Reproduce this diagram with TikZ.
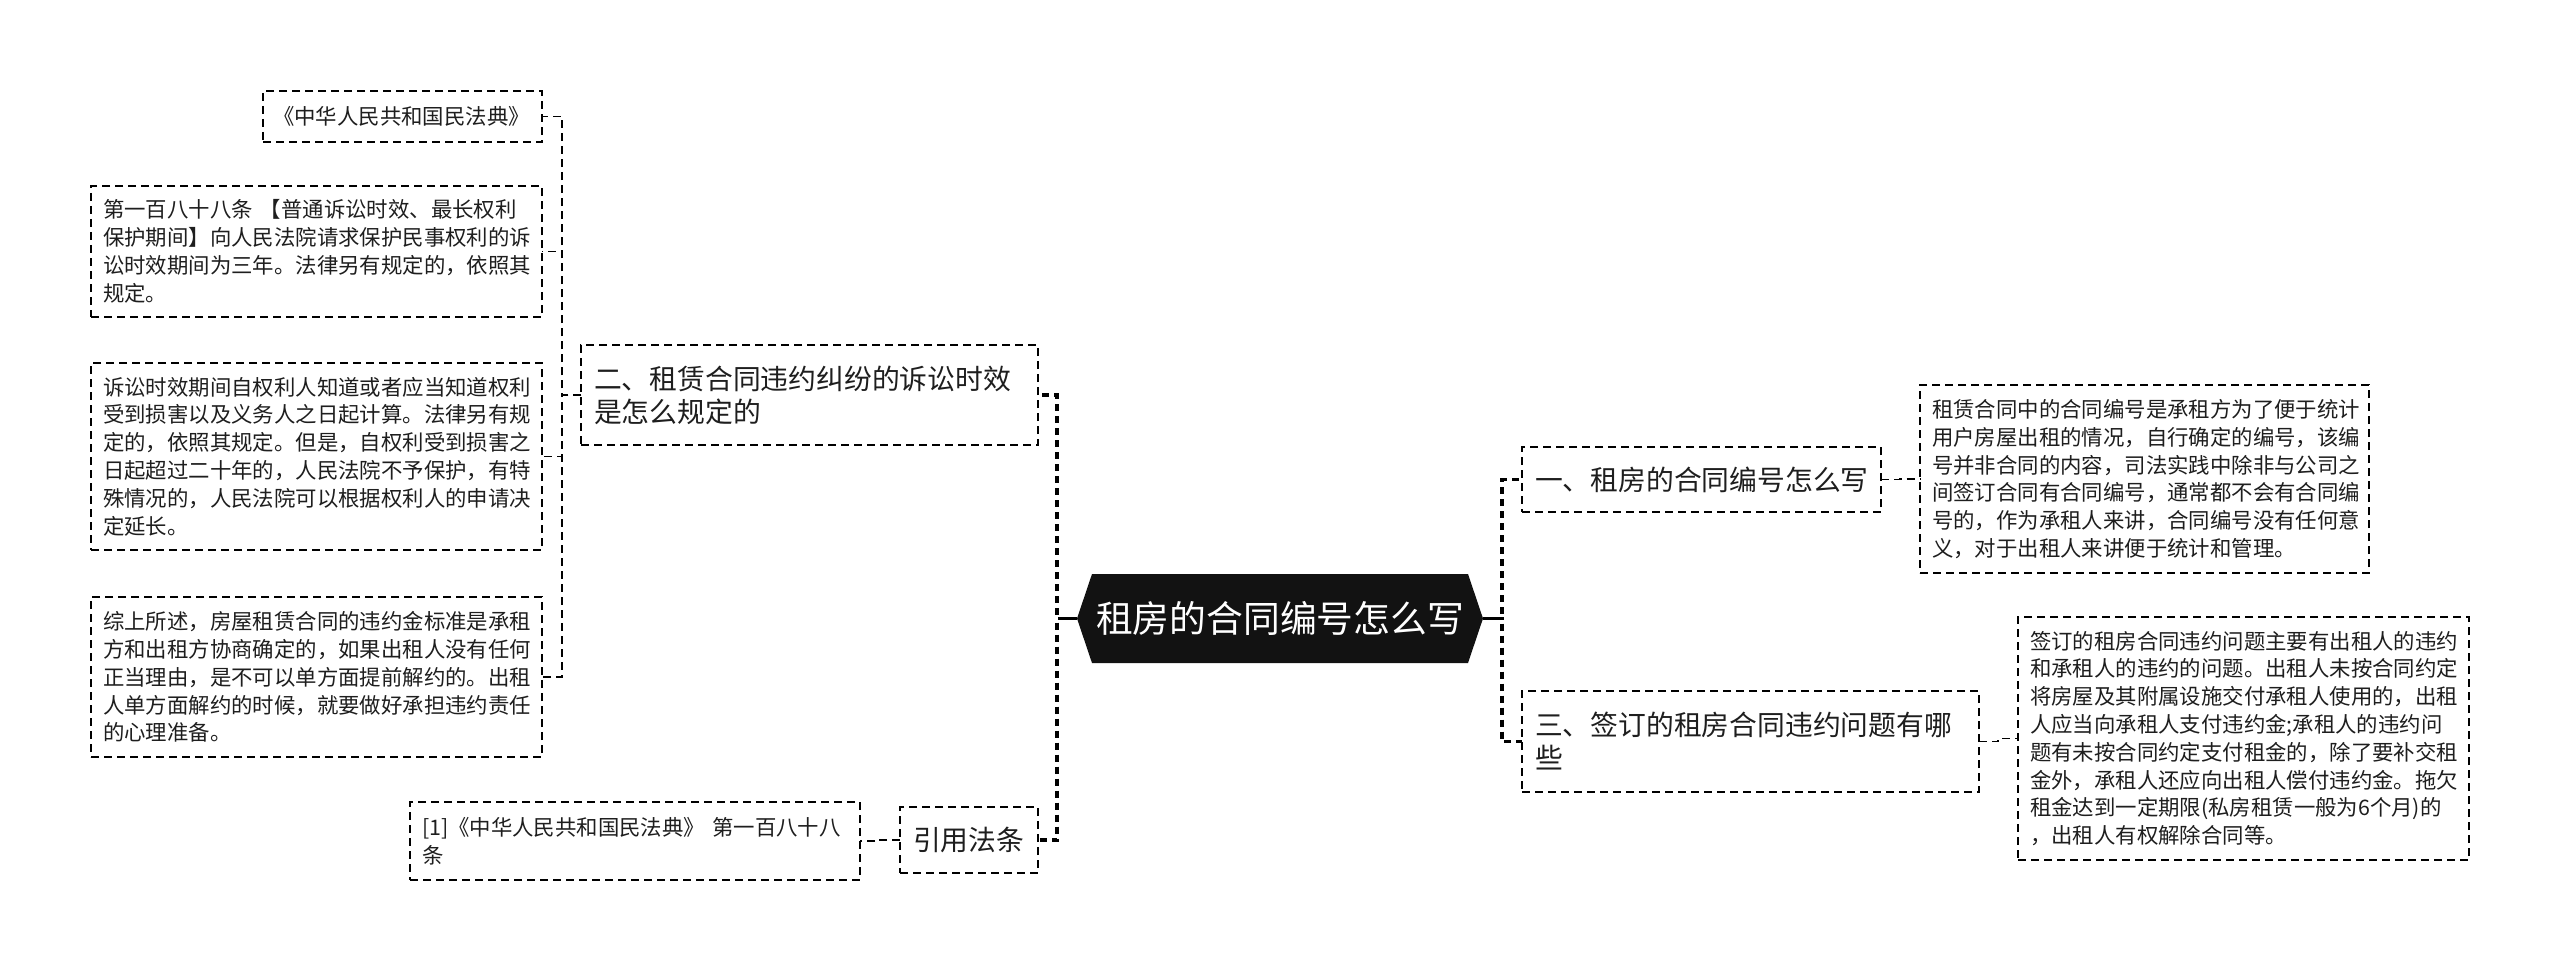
\documentclass[tikz,border=0pt]{standalone}
\usepackage{fontspec}
\setmainfont{Noto Sans CJK SC}
\usetikzlibrary{backgrounds}
\definecolor{txt}{HTML}{1E1E1E}
\begin{document}
\begin{tikzpicture}[x=1pt,y=-1pt,
  nbox/.style={draw=black, line width=1.7pt, dash pattern=on 8pt off 5pt, fill=white,
    inner xsep=12pt, inner ysep=0pt, outer sep=0pt, align=left, anchor=north west, text=txt},
  leaf/.style={nbox, font=\fontsize{21.4}{27.8}\selectfont},
  mid/.style={nbox, font=\fontsize{27.8}{33}\selectfont, inner xsep=13pt},
  link1/.style={line width=3.2pt, dash pattern=on 7pt off 5pt},
  link2/.style={line width=1.9pt, dash pattern=on 8pt off 5pt},
  stub/.style={line width=3.2pt}
]
\useasboundingbox (0,0) rectangle (2560,971);

% root
\node[text=white, font=\fontsize{36.8}{44}\selectfont, minimum width=406pt, minimum height=89pt,
  inner sep=0pt, outer sep=0pt] (root) at (1280,618.5) {租房的合同编号怎么写};
\begin{pgfonlayer}{background}
\fill[white] (0,0) rectangle (2560,971);
\fill[black!93] (root.west) -- ([xshift=15pt]root.north west) -- ([xshift=-15pt]root.north east)
  -- (root.east) -- ([xshift=-15pt]root.south east) -- ([xshift=15pt]root.south west) -- cycle;
\end{pgfonlayer}

% left side
\node[mid, minimum width=457pt, minimum height=100pt, text width=431pt] (m2) at (581,345)
  {二、租赁合同违约纠纷的诉讼时效\\是怎么规定的};
\node[mid, minimum width=138pt, minimum height=66pt, text width=112pt, inner xsep=13pt] (cite) at (900,807)
  {引用法条};
\node[leaf, minimum width=450pt, minimum height=78pt, text width=426pt] (ref) at (410,802)
  {[1]《中华人民共和国民法典》 第一百八十八\\条};

\node[leaf, minimum width=279pt, minimum height=51pt, text width=259pt, inner xsep=10pt] (L1) at (263,91)
  {《中华人民共和国民法典》};
\node[leaf, minimum width=451pt, minimum height=131pt, text width=427pt] (L2) at (91,186)
  {第一百八十八条 【普通诉讼时效、最长权利\\保护期间】向人民法院请求保护民事权利的诉\\讼时效期间为三年。法律另有规定的，依照其\\规定。};
\node[leaf, minimum width=451pt, minimum height=187pt, text width=427pt] (L3) at (91,363)
  {诉讼时效期间自权利人知道或者应当知道权利\\受到损害以及义务人之日起计算。法律另有规\\定的，依照其规定。但是，自权利受到损害之\\日起超过二十年的，人民法院不予保护，有特\\殊情况的，人民法院可以根据权利人的申请决\\定延长。};
\node[leaf, minimum width=451pt, minimum height=160pt, text width=427pt] (L4) at (91,597)
  {综上所述，房屋租赁合同的违约金标准是承租\\方和出租方协商确定的，如果出租人没有任何\\正当理由，是不可以单方面提前解约的。出租\\人单方面解约的时候，就要做好承担违约责任\\的心理准备。};

% right side
\node[mid, minimum width=359pt, minimum height=65pt, text width=333pt] (m1) at (1522,447)
  {一、租房的合同编号怎么写};
\node[leaf, minimum width=449pt, minimum height=188pt, text width=425pt] (T1) at (1920,385)
  {租赁合同中的合同编号是承租方为了便于统计\\用户房屋出租的情况，自行确定的编号，该编\\号并非合同的内容，司法实践中除非与公司之\\间签订合同有合同编号，通常都不会有合同编\\号的，作为承租人来讲，合同编号没有任何意\\义，对于出租人来讲便于统计和管理。};
\node[mid, minimum width=457pt, minimum height=101pt, text width=431pt] (m3) at (1522,691)
  {三、签订的租房合同违约问题有哪\\些};
\node[leaf, minimum width=451pt, minimum height=243pt, text width=427pt] (T3) at (2018,617)
  {签订的租房合同违约问题主要有出租人的违约\\和承租人的违约的问题。出租人未按合同约定\\将房屋及其附属设施交付承租人使用的，出租\\人应当向承租人支付违约金;承租人的违约问\\题有未按合同约定支付租金的，除了要补交租\\金外，承租人还应向出租人偿付违约金。拖欠\\租金达到一定期限(私房租赁一般为6个月)的\\，出租人有权解除合同等。};

% connectors from root
\draw[stub] (root.east) -- ++(19,0);
\draw[stub] (root.west) -- ++(-19,0);
\draw[link1] (root.east) -- ++(19,0) |- (m1.west);
\draw[link1] (root.east) -- ++(19,0) |- (m3.west);
\draw[link1] (root.west) -- ++(-20,0) |- (m2.east);
\draw[link1] (root.west) -- ++(-20,0) |- (cite.east);

% second level
\draw[link2] (m2.west) -- ++(-19,0) |- (L1.east);
\draw[link2] (m2.west) -- ++(-19,0) |- (L2.east);
\draw[link2] (m2.west) -- ++(-19,0) |- (L3.east);
\draw[link2] (m2.west) -- ++(-19,0) |- (L4.east);
\draw[link2] (cite.west) -- ++(-20,0) |- (ref.east);
\draw[link2] (m1.east) -- ++(19,0) |- (T1.west);
\draw[link2] (m3.east) -- ++(19,0) |- (T3.west);
\end{tikzpicture}
\end{document}
